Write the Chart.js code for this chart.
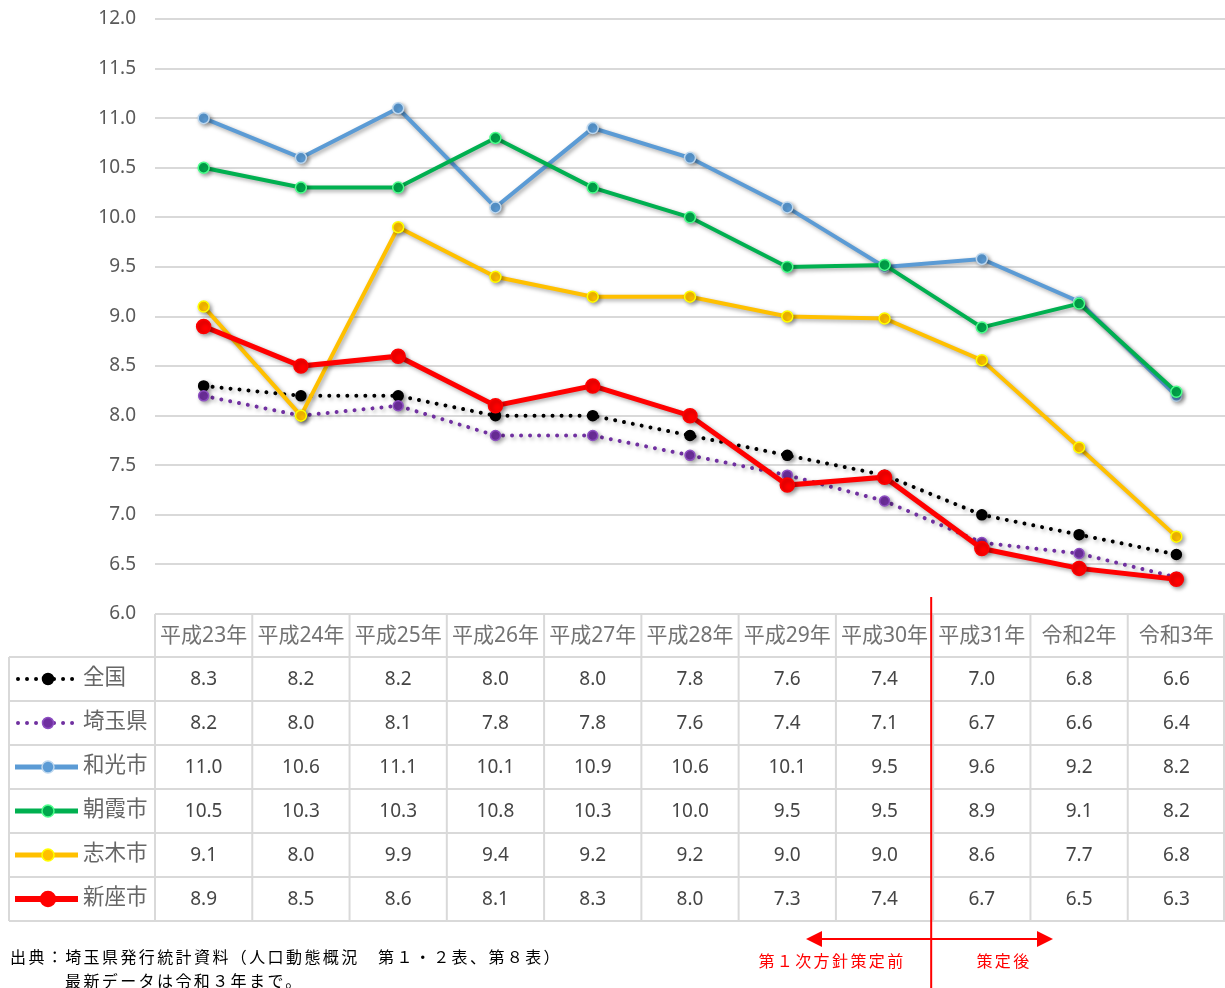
<!DOCTYPE html>
<html lang="ja">
<head>
<meta charset="utf-8">
<script src="https://cdn.jsdelivr.net/npm/chart.js@4.4.1/dist/chart.umd.min.js"></script>
<style>
  html, body { margin: 0; padding: 0; background: #fff; }
  #wrap { width: 1225px; height: 988px; }
</style>
</head>
<body>
<div id="wrap"><canvas id="chart" width="1225" height="988"></canvas></div>
<script>
const years = ["平成23年", "平成24年", "平成25年", "平成26年", "平成27年", "平成28年",
  "平成29年", "平成30年", "平成31年", "令和2年", "令和3年"];

// plotted values
const zenkoku = [8.3, 8.2, 8.2, 8.0, 8.0, 7.8, 7.6, 7.4, 7.0, 6.8, 6.6];
const saitama = [8.2, 8.0, 8.1, 7.8, 7.8, 7.6, 7.4, 7.14, 6.72, 6.61, 6.37];
const wako = [11.0, 10.6, 11.1, 10.1, 10.9, 10.6, 10.1, 9.5, 9.58, 9.15, 8.2];
const asaka = [10.5, 10.3, 10.3, 10.8, 10.3, 10.0, 9.5, 9.52, 8.89, 9.13, 8.24];
const shiki = [9.1, 8.0, 9.9, 9.4, 9.2, 9.2, 9.0, 8.98, 8.56, 7.68, 6.78];
const niiza = [8.9, 8.5, 8.6, 8.1, 8.3, 8.0, 7.3, 7.38, 6.66, 6.46, 6.35];

// values printed in the data table
const zenkokuText = ["8.3", "8.2", "8.2", "8.0", "8.0", "7.8", "7.6", "7.4", "7.0", "6.8", "6.6"];
const saitamaText = ["8.2", "8.0", "8.1", "7.8", "7.8", "7.6", "7.4", "7.1", "6.7", "6.6", "6.4"];
const wakoText = ["11.0", "10.6", "11.1", "10.1", "10.9", "10.6", "10.1", "9.5", "9.6", "9.2", "8.2"];
const asakaText = ["10.5", "10.3", "10.3", "10.8", "10.3", "10.0", "9.5", "9.5", "8.9", "9.1", "8.2"];
const shikiText = ["9.1", "8.0", "9.9", "9.4", "9.2", "9.2", "9.0", "9.0", "8.6", "7.7", "6.8"];
const niizaText = ["8.9", "8.5", "8.6", "8.1", "8.3", "8.0", "7.3", "7.4", "6.7", "6.5", "6.3"];

const yTicks = [6.0, 6.5, 7.0, 7.5, 8.0, 8.5, 9.0, 9.5, 10.0, 10.5, 11.0, 11.5, 12.0];

const footLine1 = "出典：埼玉県発行統計資料（人口動態概況　第１・２表、第８表）";
const footLine2 = "最新データは令和３年まで。";
const beforeLabel = "第１次方針策定前";
const afterLabel = "策定後";

const CJK = "'Noto Sans', 'Noto Sans CJK JP', sans-serif";

const series = [
  { label: "全国", data: zenkoku, text: zenkokuText, color: "#000000", width: 4, dotted: true,
    fill: "#000000", edge: "#000000", radius: 5 },
  { label: "埼玉県", data: saitama, text: saitamaText, color: "#7030a0", width: 4, dotted: true,
    fill: "#7030a0", edge: "#8e4fc2", radius: 5 },
  { label: "和光市", data: wako, text: wakoText, color: "#5b9bd5", width: 4, dotted: false,
    fill: "#5b9bd5", edge: "#bdd7ee", radius: 5.5 },
  { label: "朝霞市", data: asaka, text: asakaText, color: "#00b050", width: 4, dotted: false,
    fill: "#00a84c", edge: "#4dff8c", radius: 5.5 },
  { label: "志木市", data: shiki, text: shikiText, color: "#ffc000", width: 4, dotted: false,
    fill: "#ffc000", edge: "#ffff00", radius: 5.5 },
  { label: "新座市", data: niiza, text: niizaText, color: "#ff0000", width: 5, dotted: false,
    fill: "#ff0000", edge: "#ff0000", radius: 7 },
];

const datasets = series.map((s, i) => ({
  label: s.label,
  data: s.data,
  borderColor: s.color,
  borderWidth: s.width,
  borderDash: s.dotted ? [0.01, 9] : [],
  borderCapStyle: s.dotted ? "round" : "butt",
  pointRadius: s.radius,
  pointBackgroundColor: s.fill,
  pointBorderColor: s.edge,
  pointBorderWidth: 1.5,
  tension: 0,
  clip: false,
  order: series.length - i,
}));

const shadowPlugin = {
  id: "lineShadow",
  beforeDatasetDraw(chart) {
    const ctx = chart.ctx;
    ctx.save();
    ctx.shadowColor = "rgba(0,0,0,0.35)";
    ctx.shadowBlur = 4;
    ctx.shadowOffsetX = 2;
    ctx.shadowOffsetY = 2;
  },
  afterDatasetDraw(chart) {
    chart.ctx.restore();
  },
};

function drawSample(ctx, s, cy) {
  ctx.save();
  ctx.strokeStyle = s.color;
  ctx.lineWidth = s.width + (s.dotted ? 0 : 1);
  if (s.dotted) {
    ctx.setLineDash([0.01, 9]);
    ctx.lineCap = "round";
  }
  ctx.beginPath();
  ctx.moveTo(s.dotted ? 18 : 15, cy);
  ctx.lineTo(78, cy);
  ctx.stroke();
  ctx.setLineDash([]);
  ctx.beginPath();
  ctx.arc(48, cy, s.radius + 0.5, 0, Math.PI * 2);
  ctx.fillStyle = s.fill;
  ctx.fill();
  ctx.lineWidth = 1.5;
  ctx.strokeStyle = s.edge;
  ctx.stroke();
  ctx.restore();
}

const tablePlugin = {
  id: "dataTable",
  afterDraw(chart) {
    const { ctx, chartArea } = chart;
    const x = chart.scales.x;
    const left = chartArea.left, right = chartArea.right;
    const colW = (right - left) / years.length;
    const headTop = chartArea.bottom;
    const headBottom = headTop + 43;
    const rowH = 44;
    const tableBottom = headBottom + rowH * series.length;
    const legLeft = 9;

    ctx.save();
    ctx.strokeStyle = "#d9d9d9";
    ctx.lineWidth = 2;
    ctx.beginPath();
    ctx.moveTo(left, headTop);
    ctx.lineTo(right, headTop);
    for (let r = 0; r <= series.length; r++) {
      const y = headBottom + r * rowH;
      ctx.moveTo(legLeft, y);
      ctx.lineTo(right, y);
    }
    for (let c = 0; c <= years.length; c++) {
      const xx = Math.min(left + c * colW, right - 1);
      ctx.moveTo(xx, headTop);
      ctx.lineTo(xx, tableBottom);
    }
    ctx.moveTo(legLeft, headBottom);
    ctx.lineTo(legLeft, tableBottom);
    ctx.stroke();

    ctx.textAlign = "center";
    ctx.textBaseline = "middle";
    ctx.fillStyle = "#737373";
    ctx.font = "21px " + CJK;
    years.forEach((y, i) => {
      ctx.fillText(y, x.getPixelForValue(i), (headTop + headBottom) / 2 + 1);
    });

    series.forEach((s, r) => {
      const cy = headBottom + r * rowH + rowH / 2;
      drawSample(ctx, s, cy);
      ctx.textAlign = "left";
      ctx.fillStyle = "#666666";
      ctx.font = "21.5px " + CJK;
      ctx.fillText(s.label, 83, cy - 1);
      ctx.textAlign = "center";
      ctx.fillStyle = "#454545";
      ctx.font = "19px " + CJK;
      s.text.forEach((t, i) => {
        ctx.fillText(t, x.getPixelForValue(i), cy + 1);
      });
    });

    // policy boundary and arrows
    const bx = left + 8 * colW - 2;
    ctx.strokeStyle = "#ff0000";
    ctx.fillStyle = "#ff0000";
    ctx.lineWidth = 2;
    ctx.beginPath();
    ctx.moveTo(bx, headTop - 17);
    ctx.lineTo(bx, 988);
    ctx.stroke();
    const ay = 939, ax1 = 806, ax2 = 1053;
    ctx.beginPath();
    ctx.moveTo(ax1 + 10, ay);
    ctx.lineTo(ax2 - 10, ay);
    ctx.stroke();
    ctx.beginPath();
    ctx.moveTo(ax1, ay);
    ctx.lineTo(ax1 + 16, ay - 8);
    ctx.lineTo(ax1 + 16, ay + 8);
    ctx.closePath();
    ctx.moveTo(ax2, ay);
    ctx.lineTo(ax2 - 16, ay - 8);
    ctx.lineTo(ax2 - 16, ay + 8);
    ctx.closePath();
    ctx.fill();

    ctx.font = "16px 'Noto Sans CJK JP', sans-serif";
    ctx.letterSpacing = "2.4px";
    ctx.textAlign = "center";
    ctx.fillText(beforeLabel, 832, 961);
    ctx.fillText(afterLabel, 1004, 961);

    ctx.fillStyle = "#000000";
    ctx.textAlign = "left";
    ctx.fillText(footLine1, 10, 957);
    ctx.fillText(footLine2, 65, 981);
    ctx.restore();
  },
};

new Chart(document.getElementById("chart").getContext("2d"), {
  type: "line",
  data: { labels: years, datasets },
  options: {
    responsive: false,
    animation: false,
    devicePixelRatio: 1,
    layout: { autoPadding: false, padding: { top: 19, bottom: 374, left: 0, right: 0 } },
    plugins: {
      legend: { display: false },
      tooltip: { enabled: false },
    },
    scales: {
      x: {
        type: "category",
        display: false,
        offset: true,
        afterFit(scale) {
          scale.paddingLeft = 0;
          scale.paddingRight = 0;
        },
      },
      y: {
        min: 6,
        max: 12,
        afterBuildTicks(scale) {
          scale.ticks = yTicks.map((v) => ({ value: v }));
        },
        afterFit(scale) {
          scale.width = 155;
          scale.paddingTop = 0;
          scale.paddingBottom = 0;
        },
        border: { display: false },
        grid: { color: "#d9d9d9", lineWidth: 2, drawTicks: false },
        ticks: {
          padding: 19,
          color: "#595959",
          font: { family: "'Noto Sans', sans-serif", size: 19 },
          callback: (v) => Number(v).toFixed(1),
        },
      },
    },
  },
  plugins: [shadowPlugin, tablePlugin],
});
</script>
</body>
</html>
